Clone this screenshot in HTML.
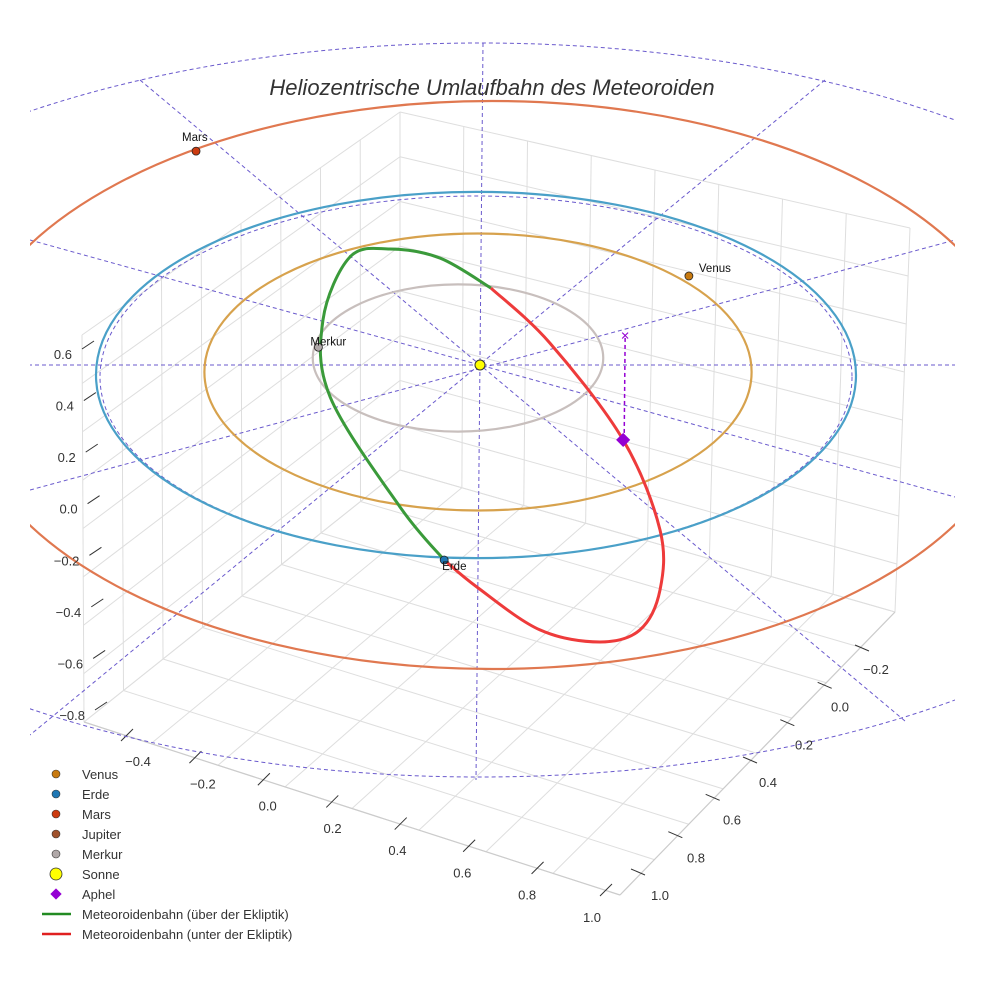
<!DOCTYPE html>
<html><head><meta charset="utf-8"><style>
body{margin:0;background:#fff}
svg{display:block;font-family:"Liberation Sans",sans-serif}
</style></head><body>
<svg id="c" width="984" height="984" viewBox="0 0 984 984">
<defs><clipPath id="clip"><rect x="30" y="0" width="925" height="984"/></clipPath></defs>
<g id="box"></g>
<g id="dash" clip-path="url(#clip)"></g>
<g id="orbits" clip-path="url(#clip)"></g>
<g id="met"></g>
<g id="pts"></g>
<g id="ticks" font-size="13" fill="#333"></g>
<text x="492" y="95" text-anchor="middle" font-size="22" font-style="italic" fill="#333">Heliozentrische Umlaufbahn des Meteoroiden</text>
<g id="legend" font-size="13" fill="#333"></g>
</svg>
<script>
const orbitNames=["Merkur","Venus","Erde","Mars"];
const orbitRadii=[0.39,0.72,1.0,1.52];
const orbitColors=["#c8bfbd","#d7a24d","#4aa0c8","#e07850"];
const planetNames=["Merkur","Venus","Erde","Mars"];
const planetX=[-0.42,0.555,-0.089,-0.742];
const planetY=[-0.15,-0.535,1.0,-1.21];
const planetColors=["#b0a8a8","#c87a10","#1f77b4","#cc3b10"];
const greenX=[-0.089,-0.205,-0.389,-0.408,-0.337,-0.232,-0.1,0.034];
const greenY=[1.0,0.714,0.119,-0.297,-0.638,-0.681,-0.632,-0.47];
const redX=[0.034,0.189,0.382,0.479,0.479,0.426,0.321,0.163,-0.003,-0.089];
const redY=[-0.47,-0.173,0.351,0.838,1.162,1.378,1.443,1.378,1.146,1.0];
const aphelX=[0.382], aphelY=[0.351], aphelZ=[0.55];
const xTicks=["−0.4","−0.2","0.0","0.2","0.4","0.6","0.8","1.0"];
const yTicks=["−0.2","0.0","0.2","0.4","0.6","0.8","1.0"];
const zTicks=["0.6","0.4","0.2","0.0","−0.2","−0.4","−0.6","−0.8"];
const legendLabels=["Venus","Erde","Mars","Jupiter","Merkur","Sonne","Aphel","Meteoroidenbahn (über der Ekliptik)","Meteoroidenbahn (unter der Ekliptik)"];
const legendColors=["#c87a10","#1f77b4","#cc3b10","#a0522d","#b0a8a8","#ffff00","#9400d3","#228b22","#e02020"];

const NS="http://www.w3.org/2000/svg";
const CX=478,CY=375,SX=380,SY=185;
const px=x=>CX+x*SX, py=y=>CY+y*SY;
// per-orbit perspective tweaks (layout, not data)
const orbCx=[458,478,476,492], orbCy=[358,372,375,385], orbKx=[0.98,1.0,1.0,0.92], orbKy=[1.02,1.04,0.99,1.01];
function mk(tag,attrs,parent){const e=document.createElementNS(NS,tag);for(const k in attrs)e.setAttribute(k,attrs[k]);parent.appendChild(e);return e;}
const G=id=>document.getElementById(id);

// box
const box=G('box');
const A=[84,722],B=[620,895],C=[895,612],D=[400,470],Dt=[400,112],At=[82,335],Ct=[910,228];
function lerp(p,q,t){return [p[0]+(q[0]-p[0])*t,p[1]+(q[1]-p[1])*t];}
function ln(p,q,w,col){const l=mk('line',{x1:p[0],y1:p[1],x2:q[0],y2:q[1],stroke:col||'#dedede','stroke-width':w||1},box);}
for(let i=0;i<=8;i++){const t=i/8;ln(lerp(A,B,t),lerp(D,C,t));ln(lerp(A,D,t),lerp(B,C,t));}
for(let i=0;i<=8;i++){const t=i/8;ln(lerp(A,D,t),lerp(At,Dt,t));ln(lerp(D,C,t),lerp(Dt,Ct,t));
 const a=lerp(A,At,t),d=lerp(D,Dt,t),c=lerp(C,Ct,t);ln(a,d);ln(d,c);}
ln(A,B,1.2,'#ccc');ln(B,C,1.2,'#ccc');
// tick labels
const tk=G('ticks');
xTicks.forEach((s,i)=>{const p=lerp([138,762],[592,918],i/7);const t=mk('text',{x:p[0],y:p[1]+4,'text-anchor':'middle'},tk);t.textContent=s;
 const q=lerp([127,735],[606,890],i/7);ln([q[0]-6,q[1]+6],[q[0]+6,q[1]-6],1,'#333');});
yTicks.forEach((s,i)=>{const p=lerp([876,670],[660,896],i/6);const t=mk('text',{x:p[0],y:p[1]+4,'text-anchor':'middle'},tk);t.textContent=s;
 const q=lerp([862,648],[638,872],i/6);ln([q[0]-7,q[1]-3],[q[0]+7,q[1]+3],1,'#333');});
zTicks.forEach((s,i)=>{const p=lerp([72,355],[85,716],i/7);const t=mk('text',{x:p[0],y:p[1]+4,'text-anchor':'end'},tk);t.textContent=s;
 const q=lerp([88,345],[101,706],i/7);ln([q[0]-6,q[1]+4],[q[0]+6,q[1]-4],1,'#333');});

// dashed ecliptic grid
const dg=G('dash');
function dl(x1,y1,x2,y2){const l=mk('line',{x1,y1,x2,y2,stroke:'#6a5acd','stroke-width':1,'stroke-dasharray':'4 3'},dg);}
dl(0,365,984,365);dl(483,43,476,780);
dl(140,80,905,721);dl(825,80,30,735);dl(30,240,955,497);dl(30,490,955,240);
let e=mk('ellipse',{cx:480,cy:410,rx:775,ry:367,fill:'none',stroke:'#6a5acd','stroke-dasharray':'4 3'},dg);

e=mk('ellipse',{cx:476,cy:377,rx:376,ry:181,fill:'none',stroke:'#6a5acd','stroke-dasharray':'4 3'},dg);


// orbits
const og=G('orbits');
orbitRadii.forEach((r,i)=>{const el=mk('ellipse',{cx:orbCx[i],cy:orbCy[i],rx:r*SX*orbKx[i],ry:r*SY*orbKy[i],fill:'none',stroke:orbitColors[i],'stroke-width':2.2},og);
 });

// meteoroid
const mg=G('met');
function curve(xs,ys){const P=xs.map((x,i)=>[px(x),py(ys[i])]);let d='M'+P[0].join(',');
 for(let i=0;i<P.length-1;i++){const p0=P[Math.max(0,i-1)],p1=P[i],p2=P[i+1],p3=P[Math.min(P.length-1,i+2)];
  d+=' C'+(p1[0]+(p2[0]-p0[0])/6)+','+(p1[1]+(p2[1]-p0[1])/6)+' '+(p2[0]-(p3[0]-p1[0])/6)+','+(p2[1]-(p3[1]-p1[1])/6)+' '+p2[0]+','+p2[1];}
 return d;}
let p=mk('path',{d:curve(greenX,greenY),fill:'none',stroke:'#3a9a3a','stroke-width':3},mg);

p=mk('path',{d:curve(redX,redY),fill:'none',stroke:'#ee3b3b','stroke-width':3},mg);


// bodies
const pg=G('pts');
const ax=px(aphelX[0]),ay=py(aphelY[0]),az=ay-aphelZ[0]*190;
let l=mk('line',{x1:ax+1,y1:ay,x2:ax+2,y2:az,stroke:'#9400d3','stroke-width':1.5,'stroke-dasharray':'4 3'},pg);

let t=mk('text',{x:ax+2,y:az+5,'text-anchor':'middle','font-size':15,fill:'#9400d3'},pg);t.textContent='×';

let r=mk('rect',{x:ax-5,y:ay-5,width:10,height:10,fill:'#9400d3',transform:`rotate(45 ${ax} ${ay})`},pg);

planetNames.forEach((n,i)=>{const x=px(planetX[i]),y=py(planetY[i]);
 const c=mk('circle',{cx:x,cy:y,r:4,fill:planetColors[i],stroke:'#222','stroke-width':0.8},pg);
 
 const off={Merkur:[-8,-2],Venus:[10,-4],Erde:[-2,10],Mars:[-14,-10]}[n];
 const tt=mk('text',{x:x+off[0],y:y+off[1],'font-size':11.5,fill:'#111'},pg);tt.textContent=n;
 });
const s=mk('circle',{cx:480,cy:365,r:5,fill:'#ffff00',stroke:'#333','stroke-width':1},pg);


// legend
const lg=G('legend');
legendLabels.forEach((lab,i)=>{const y=774+i*20;let m;
 if(i<5)m=mk('circle',{cx:56,cy:y,r:4,fill:legendColors[i],stroke:'#333','stroke-width':0.6},lg);
 else if(i==5)m=mk('circle',{cx:56,cy:y,r:6,fill:legendColors[i],stroke:'#333','stroke-width':0.8},lg);
 else if(i==6)m=mk('rect',{x:52,y:y-4,width:8,height:8,fill:legendColors[i],transform:`rotate(45 56 ${y})`},lg);
 else m=mk('line',{x1:42,y1:y,x2:71,y2:y,stroke:legendColors[i],'stroke-width':2.5},lg);
 
 const tx=mk('text',{x:82,y:y+5},lg);tx.textContent=lab;
 });
</script>
</body></html>
